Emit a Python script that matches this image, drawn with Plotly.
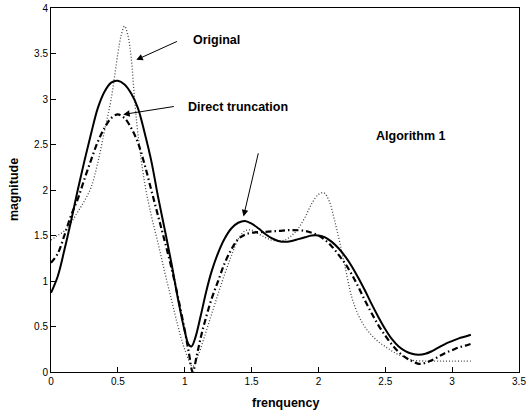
import plotly.graph_objects as go

# ---- data ----
alg_x = [0.00, 0.05, 0.10, 0.15, 0.20, 0.25, 0.30, 0.35, 0.40, 0.45, 0.50, 0.55, 0.60, 0.65,
         0.70, 0.75, 0.80, 0.85, 0.90, 0.95, 1.00, 1.03, 1.05, 1.08, 1.12, 1.16, 1.20, 1.25,
         1.30, 1.35, 1.40, 1.45, 1.50, 1.55, 1.60, 1.65, 1.70, 1.75, 1.80, 1.85, 1.90, 1.95,
         2.00, 2.05, 2.10, 2.15, 2.20, 2.25, 2.30, 2.35, 2.40, 2.45, 2.50, 2.55, 2.60, 2.65,
         2.70, 2.75, 2.80, 2.85, 2.90, 2.95, 3.00, 3.05, 3.10, 3.14]
alg_y = [0.87, 1.05, 1.34, 1.66, 2.00, 2.32, 2.62, 2.90, 3.08, 3.18, 3.20, 3.16, 3.06, 2.90,
         2.63, 2.32, 1.93, 1.57, 1.20, 0.80, 0.45, 0.30, 0.28, 0.38, 0.62, 0.88, 1.10, 1.31,
         1.47, 1.58, 1.64, 1.66, 1.63, 1.58, 1.52, 1.47, 1.44, 1.43, 1.44, 1.46, 1.48, 1.50,
         1.50, 1.48, 1.43, 1.36, 1.27, 1.16, 1.03, 0.89, 0.74, 0.60, 0.47, 0.36, 0.28, 0.23,
         0.20, 0.19, 0.20, 0.23, 0.27, 0.31, 0.34, 0.37, 0.39, 0.41]

dt_x = [0.00, 0.05, 0.10, 0.15, 0.20, 0.25, 0.30, 0.35, 0.40, 0.45, 0.50, 0.55, 0.60, 0.65,
        0.70, 0.75, 0.80, 0.85, 0.90, 0.95, 1.00, 1.03, 1.06, 1.09, 1.12, 1.15, 1.20, 1.25,
        1.30, 1.35, 1.40, 1.45, 1.50, 1.60, 1.70, 1.80, 1.90, 1.95, 2.00, 2.05, 2.10, 2.15,
        2.20, 2.25, 2.30, 2.35, 2.40, 2.45, 2.50, 2.55, 2.60, 2.65, 2.70, 2.75, 2.80, 2.85,
        2.90, 2.95, 3.00, 3.05, 3.10, 3.14]
dt_y = [1.20, 1.30, 1.50, 1.72, 1.90, 2.12, 2.33, 2.53, 2.68, 2.79, 2.83, 2.79, 2.68, 2.52,
        2.28, 2.00, 1.72, 1.44, 1.15, 0.82, 0.46, 0.22, 0.00, 0.18, 0.38, 0.55, 0.80, 1.00,
        1.20, 1.35, 1.46, 1.51, 1.53, 1.54, 1.55, 1.56, 1.55, 1.53, 1.50, 1.45, 1.38, 1.29,
        1.19, 1.07, 0.93, 0.78, 0.64, 0.51, 0.40, 0.30, 0.22, 0.16, 0.12, 0.09, 0.10, 0.13,
        0.17, 0.21, 0.24, 0.27, 0.29, 0.31]

orig_x = [0.00, 0.05, 0.10, 0.15, 0.20, 0.25, 0.30, 0.35, 0.40, 0.45, 0.50, 0.525, 0.55, 0.575,
          0.60, 0.625, 0.65, 0.70, 0.75, 0.80, 0.85, 0.90, 0.95, 1.00, 1.06, 1.10, 1.15, 1.20,
          1.25, 1.30, 1.35, 1.40, 1.45, 1.50, 1.55, 1.60, 1.65, 1.70, 1.75, 1.80, 1.85, 1.90,
          1.95, 2.00, 2.04, 2.08, 2.12, 2.16, 2.20, 2.25, 2.30, 2.35, 2.40, 2.45, 2.50, 2.55,
          2.60, 2.65, 2.70, 2.80, 2.90, 3.00, 3.14]
orig_y = [1.45, 1.50, 1.55, 1.64, 1.76, 1.88, 2.03, 2.30, 2.65, 3.00, 3.50, 3.70, 3.80, 3.70,
          3.45, 3.00, 2.62, 2.08, 1.72, 1.42, 1.10, 0.80, 0.50, 0.25, 0.06, 0.18, 0.40, 0.63,
          0.86, 1.08, 1.28, 1.46, 1.55, 1.56, 1.52, 1.48, 1.45, 1.44, 1.45, 1.50, 1.58, 1.70,
          1.85, 1.95, 1.97, 1.88, 1.67, 1.42, 1.15, 0.82, 0.62, 0.49, 0.40, 0.33, 0.28, 0.23,
          0.19, 0.16, 0.13, 0.12, 0.12, 0.12, 0.12]

x_ticks = [0, 0.5, 1, 1.5, 2, 2.5, 3, 3.5]
x_tick_labels = ["0", "0.5", "1", "1.5", "2", "2.5", "3", "3.5"]
y_ticks = [0, 0.5, 1, 1.5, 2, 2.5, 3, 3.5, 4]
y_tick_labels = ["0", "0.5", "1", "1.5", "2", "2.5", "3", "3.5", "4"]

labels = ["Original", "Direct truncation", "Algorithm 1"]
label_pos = [(1.24, 3.65), (1.40, 2.91), (2.69, 2.59)]
arrow_heads = [(0.638, 3.43), (0.54, 2.83), (1.44, 1.71)]
arrow_tails = [(0.953, 3.64), (0.93, 2.92), (1.553, 2.42)]

x_title = "frenquency"
y_title = "magnitude"

FONT = "Liberation Sans, Arial, Helvetica, sans-serif"

fig = go.Figure()
fig.add_trace(go.Scatter(x=orig_x, y=orig_y, mode="lines", name="Original",
                         line=dict(color="#444444", width=1.3, dash="1px,2px", shape="spline", smoothing=1)))
fig.add_trace(go.Scatter(x=dt_x, y=dt_y, mode="lines", name="Direct truncation",
                         line=dict(color="black", width=2.2, dash="6px,3px,1.5px,3px", shape="spline", smoothing=1)))
fig.add_trace(go.Scatter(x=alg_x, y=alg_y, mode="lines", name="Algorithm 1",
                         line=dict(color="black", width=2, shape="spline", smoothing=1)))

for txt, (tx, ty) in zip(labels, label_pos):
    fig.add_annotation(x=tx, y=ty, xref="x", yref="y", text="<b>%s</b>" % txt,
                       showarrow=False, font=dict(family=FONT, size=12.5, color="black"))

for (hx, hy), (tx, ty) in zip(arrow_heads, arrow_tails):
    fig.add_annotation(x=hx, y=hy, xref="x", yref="y", ax=tx, ay=ty, axref="x", ayref="y",
                       text="", showarrow=True, arrowhead=2, arrowsize=1.3, arrowwidth=1,
                       arrowcolor="black", standoff=0, startstandoff=0)

# axis titles as paper-anchored annotations
fig.add_annotation(x=0.5, y=-0.085, xref="paper", yref="paper", text="<b>%s</b>" % x_title,
                   showarrow=False, yanchor="middle", font=dict(family=FONT, size=12.5, color="black"))
fig.add_annotation(x=-0.079, y=0.5, xref="paper", yref="paper", text="<b>%s</b>" % y_title,
                   showarrow=False, textangle=-90, xanchor="center",
                   font=dict(family=FONT, size=12.5, color="black"))

fig.update_layout(
    width=526, height=414,
    margin=dict(l=51, r=7, t=8, b=42, autoexpand=False),
    paper_bgcolor="white", plot_bgcolor="white",
    showlegend=False,
    font=dict(family=FONT, size=10, color="black"),
)
fig.update_xaxes(range=[0, 3.5], tickvals=x_ticks, ticktext=x_tick_labels, automargin=False,
                 ticklabeloverflow="allow",
                 ticks="inside", ticklen=5, tickcolor="black", showgrid=False, zeroline=False,
                 showline=True, linecolor="black", linewidth=1, mirror=True)
fig.update_yaxes(range=[0, 4], tickvals=y_ticks, ticktext=y_tick_labels, automargin=False,
                 ticklabeloverflow="allow",
                 ticks="inside", ticklen=5, tickcolor="black", showgrid=False, zeroline=False,
                 showline=True, linecolor="black", linewidth=1, mirror=True)

# remove the page's default 8px body margin so the figure sits at the window's corner
fig.write_html("out.html", config={"displayModeBar": False},
               post_script="document.body.style.margin='0';")
